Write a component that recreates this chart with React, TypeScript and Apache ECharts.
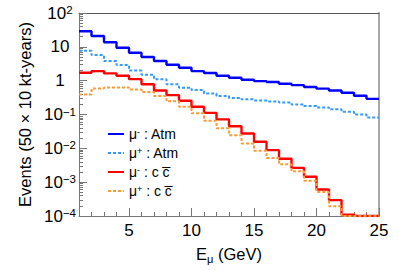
import React, { useEffect, useRef } from 'react';
import * as echarts from 'echarts';

// bin edges in GeV (24 bins of 1 GeV, from 1 to 25)
const binEdges = [1, 2, 3, 4, 5, 6, 7, 8, 9, 10, 11, 12, 13, 14, 15, 16, 17, 18, 19, 20, 21, 22, 23, 24, 25];

// events per bin
const muMinusAtm = [29, 21, 13.6, 9.4, 6.7, 5.0, 3.8, 2.95, 2.4, 1.92, 1.68, 1.4, 1.22, 1.06, 0.97, 0.91, 0.81, 0.74, 0.65, 0.58, 0.51, 0.44, 0.36, 0.29];
const muPlusAtm = [7.7, 5.7, 3.8, 2.9, 2.0, 1.5, 1.1, 0.78, 0.62, 0.53, 0.42, 0.35, 0.31, 0.28, 0.26, 0.244, 0.228, 0.199, 0.177, 0.162, 0.142, 0.12, 0.1, 0.082];
const muMinusCC = [1.71, 1.92, 1.64, 1.4, 1.11, 0.78, 0.51, 0.375, 0.254, 0.169, 0.112, 0.0716, 0.045, 0.0275, 0.0156, 0.00885, 0.0049, 0.00265, 0.00144, 0.00061, 0.000295, 0.00011, 0.0001, 0.0001];
const muPlusCC = [0.39, 0.59, 0.63, 0.63, 0.55, 0.46, 0.35, 0.245, 0.17, 0.108, 0.065, 0.039, 0.0245, 0.014, 0.0085, 0.0052, 0.0034, 0.0021, 0.0011, 0.00051, 0.000195, 0.0001, 0.0001, 0.0001];

const xMajorTicks = [5, 10, 15, 20, 25];
const xMinorTicks = [2, 3, 4, 6, 7, 8, 9, 11, 12, 13, 14, 16, 17, 18, 19, 21, 22, 23, 24];
const yDecades = [1e-4, 1e-3, 1e-2, 1e-1, 1, 10, 100];

const seriesNames = ['mu- Atm', 'mu+ Atm', 'mu- ccbar', 'mu+ ccbar'];
const legendLabels: Record<string, string> = {
  'mu- Atm': '{t|μ}{s|-}{t| : Atm}',
  'mu+ Atm': '{t|μ}{s|+}{t| : Atm}',
  'mu- ccbar': '{t|μ}{s|-}{t| : c c\u0305}',
  'mu+ ccbar': '{t|μ}{s|+}{t| : c c\u0305}',
};

const FONT = 'Liberation Sans';

function histData(values: number[]) {
  return binEdges.map((x, i) => [x, values[Math.min(i, values.length - 1)]]);
}

function yMinorTicks() {
  const out: number[] = [];
  for (let i = 0; i < yDecades.length - 1; i++) {
    for (let k = 2; k <= 9; k++) out.push(+(yDecades[i] * k).toPrecision(3));
  }
  return out;
}

function yLabel(v: number) {
  const e = Math.round(Math.log10(v));
  if (e === 0) return '{b|1}';
  if (e === 1) return '{b|10}';
  return '{b|10}{s|' + (e < 0 ? '−' + -e : String(e)) + '}';
}

export default function App() {
  const ref = useRef<HTMLDivElement>(null);
  useEffect(() => {
    const chart = echarts.init(ref.current!, null, { renderer: 'svg' });
    const mk = (name: string, values: number[], color: string, dotted: boolean) => ({
      name,
      type: 'line',
      step: 'end',
      data: histData(values),
      symbol: 'none',
      xAxisIndex: 0,
      yAxisIndex: 0,
      lineStyle: { color, width: dotted ? 2 : 2.4, type: dotted ? [3, 2] : 'solid' },
      itemStyle: { color, opacity: 0 },
      z: 3,
    });
    chart.setOption({
      animation: false,
      backgroundColor: '#fff',
      textStyle: { fontFamily: FONT },
      grid: { left: 79, right: 20, top: 13, bottom: 54 },
      legend: {
        orient: 'vertical',
        left: 102,
        top: 122,
        itemWidth: 16,
        itemHeight: 10,
        itemGap: 5,
        data: seriesNames,
        itemStyle: { opacity: 0 },
        lineStyle: { width: 2 },
        formatter: (n: string) => legendLabels[n],
        textStyle: {
          rich: {
            t: { fontSize: 14, fontFamily: FONT, color: '#000', lineHeight: 14 },
            s: { fontSize: 9, fontFamily: FONT, color: '#000', verticalAlign: 'top', lineHeight: 9 },
          },
        },
      },
      xAxis: [
        {
          type: 'value', min: 1, max: 25, position: 'bottom',
          axisLine: { lineStyle: { color: '#777', width: 1 } },
          axisTick: { inside: true, length: 8, customValues: xMajorTicks, lineStyle: { color: '#777' } },
          axisLabel: { customValues: xMajorTicks, fontSize: 17, color: '#000', margin: 6, fontFamily: FONT },
          splitLine: { show: false },
          name: '{e|E}{u|μ}{e| (GeV)}',
          nameLocation: 'middle',
          nameGap: 28,
          nameTextStyle: {
            rich: {
              e: { fontSize: 16.5, fontFamily: FONT, color: '#000', lineHeight: 20 },
              u: { fontSize: 11, fontFamily: FONT, color: '#000', verticalAlign: 'bottom', lineHeight: 11 },
            },
          },
        },
        {
          type: 'value', min: 1, max: 25, position: 'bottom',
          axisLine: { show: false },
          axisTick: { inside: true, length: 4, customValues: xMinorTicks, lineStyle: { color: '#777' } },
          axisLabel: { show: false },
          splitLine: { show: false },
        },
        {
          type: 'value', min: 1, max: 25, position: 'top',
          axisLine: { lineStyle: { color: '#555', width: 1 } },
          axisTick: { show: false },
          axisLabel: { show: false },
          splitLine: { show: false },
        },
      ],
      yAxis: [
        {
          type: 'log', logBase: 10, min: 1e-4, max: 100, position: 'left',
          axisLine: { show: true, lineStyle: { color: '#777', width: 1 } },
          axisTick: { inside: true, length: 8, customValues: yDecades, lineStyle: { color: '#777' } },
          axisLabel: {
            customValues: yDecades,
            formatter: (v: number) => yLabel(v),
            align: 'center',
            margin: 19,
            rich: {
              b: { fontSize: 17, fontFamily: FONT, color: '#000', lineHeight: 18 },
              s: { fontSize: 11.5, fontFamily: FONT, color: '#000', verticalAlign: 'top', lineHeight: 11 },
            },
          },
          splitLine: { show: false },
          name: 'Events (50 × 10 kt-years)',
          nameLocation: 'middle',
          nameGap: 41,
          nameTextStyle: { fontSize: 16.5, fontFamily: FONT, color: '#000' },
        },
        {
          type: 'log', logBase: 10, min: 1e-4, max: 100, position: 'left',
          axisLine: { show: false },
          axisTick: { inside: true, length: 4, customValues: yMinorTicks(), lineStyle: { color: '#777' } },
          axisLabel: { show: false },
          splitLine: { show: false },
        },
        {
          type: 'log', logBase: 10, min: 1e-4, max: 100, position: 'right',
          axisLine: { show: true, lineStyle: { color: '#a8a8a8', width: 2 } },
          axisTick: { show: false },
          axisLabel: { show: false },
          splitLine: { show: false },
        },
      ],
      series: [
        mk(seriesNames[0], muMinusAtm, '#0000ff', false),
        mk(seriesNames[1], muPlusAtm, '#3399ff', true),
        mk(seriesNames[2], muMinusCC, '#ff0000', false),
        mk(seriesNames[3], muPlusCC, '#ff9933', true),
      ],
    });
    return () => chart.dispose();
  }, []);
  return <div ref={ref} style={{ position: 'fixed', left: 0, top: 0, width: 399, height: 270 }} />;
}
